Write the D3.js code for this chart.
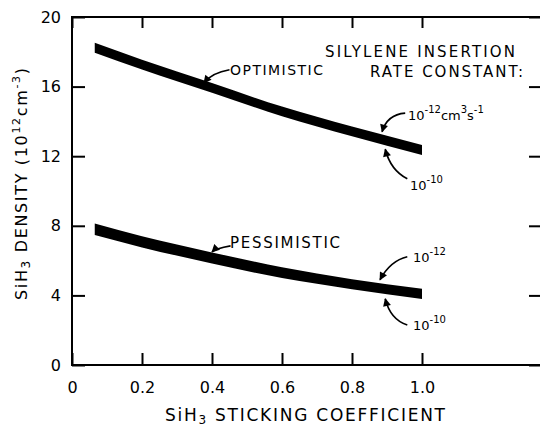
<!DOCTYPE html>
<html><head><meta charset="utf-8">
<script src="https://cdn.jsdelivr.net/npm/d3@7"></script>
<style>body{margin:0;background:#fff} svg{display:block} text{font-family:"DejaVu Sans",sans-serif;fill:#000}</style>
</head><body>
<svg id="c" width="540" height="427"></svg>
<script>
// ---- data ----
const sticking   = [0.065, 0.2, 0.4, 0.6, 0.8, 1.0];
// optimistic case: insertion rate 1e-12 (upper edge) and 1e-10 (lower edge)
const optimistic12 = [18.52, 17.55, 16.20, 14.85, 13.70, 12.64];
const optimistic10 = [17.95, 16.98, 15.65, 14.30, 13.15, 12.07];
// pessimistic case
const pessimistic12 = [8.13, 7.40, 6.47, 5.62, 4.93, 4.38];
const pessimistic10 = [7.47, 6.76, 5.84, 5.00, 4.36, 3.80];
const xTicks = [0, 0.2, 0.4, 0.6, 0.8, 1.0];
const xTickLabels = ["0", "0.2", "0.4", "0.6", "0.8", "1.0"];
const yTicks = [0, 4, 8, 12, 16, 20];
const yTickLabels = ["0", "4", "8", "12", "16", "20"];

const svg = d3.select("#c");
const x = d3.scaleLinear().domain([0, 1.34]).range([72, 541]);
const y = d3.scaleLinear().domain([0, 20]).range([365, 17]);

// frame
svg.append("rect").attr("x", x(0)).attr("y", y(20))
  .attr("width", x(1.34) - x(0)).attr("height", y(0) - y(20))
  .attr("fill", "none").attr("stroke", "#000").attr("stroke-width", 2);

function styleAxis(g) {
  g.select(".domain").remove();
  g.selectAll(".tick line").attr("stroke", "#000").attr("stroke-width", 2);
  g.selectAll(".tick text").style("font-size", "16px").attr("fill", "#000");
}
svg.append("g").attr("transform", `translate(0,${y(0)})`)
  .call(d3.axisBottom(x).tickValues(xTicks).tickSize(-12).tickPadding(17)
    .tickFormat((d, i) => xTickLabels[i]))
  .call(styleAxis);
svg.append("g").attr("transform", `translate(0,${y(20)})`)
  .call(d3.axisTop(x).tickValues(xTicks).tickSize(-11).tickFormat(""))
  .call(styleAxis);
svg.append("g").attr("transform", `translate(${x(0)},0)`)
  .call(d3.axisLeft(y).tickValues(yTicks).tickSize(-13).tickPadding(11)
    .tickFormat((d, i) => yTickLabels[i]))
  .call(styleAxis);
svg.append("g").attr("transform", `translate(${x(1.34)},0)`)
  .call(d3.axisRight(y).tickValues(yTicks).tickSize(-12).tickFormat(""))
  .call(styleAxis);

// bands
const area = d3.area().curve(d3.curveMonotoneX)
  .x(d => x(d.s)).y0(d => y(d.lo)).y1(d => y(d.hi));
[[optimistic12, optimistic10], [pessimistic12, pessimistic10]].forEach(([hi, lo]) => {
  const pts = sticking.map((s, i) => ({ s, hi: hi[i], lo: lo[i] }));
  svg.append("path").attr("d", area(pts)).attr("fill", "#000");
});

// arrow marker
svg.append("defs").append("marker").attr("id", "ah")
  .attr("viewBox", "0 0 10 10").attr("refX", 9).attr("refY", 5)
  .attr("markerWidth", 10).attr("markerHeight", 8).attr("markerUnits", "userSpaceOnUse")
  .attr("orient", "auto")
  .append("path").attr("d", "M0,0L10,5L0,10Z").attr("fill", "#000");

// annotation arrows (start, control, tip) in data units
const arrows = [
  [[0.450, 16.97], [0.40, 16.8], [0.377, 16.22]],
  [[0.453, 6.85], [0.41, 6.7], [0.400, 6.50]],
  [[0.952, 14.48], [0.90, 14.4], [0.886, 13.40]],
  [[0.958, 10.7], [0.91, 11.2], [0.895, 12.4]],
  [[0.958, 6.22], [0.91, 6.0], [0.880, 4.90]],
  [[0.958, 2.3], [0.91, 2.6], [0.895, 3.80]]
];
arrows.forEach(([a, c, b]) => {
  svg.append("path")
    .attr("d", `M${x(a[0])},${y(a[1])}Q${x(c[0])},${y(c[1])} ${x(b[0])},${y(b[1])}`)
    .attr("fill", "none").attr("stroke", "#000").attr("stroke-width", 1.7)
    .attr("marker-end", "url(#ah)");
});

// plain labels
function label(txt, px, py, size, len) {
  const t = svg.append("text").attr("x", px).attr("y", py)
    .style("font-size", size + "px").text(txt);
  if (len) t.attr("textLength", len).attr("lengthAdjust", "spacing");
  return t;
}
label("OPTIMISTIC", 230, 75, 14, 93);
label("PESSIMISTIC", 230, 248, 15, 110);
label("SILYLENE INSERTION", 325, 57, 15, 190);
label("RATE CONSTANT:", 370, 77, 15, 153);

// power labels
function power(parts, px, py) {
  const t = svg.append("text").attr("x", px).attr("y", py);
  let lvl = 0;
  parts.forEach(([s, sup]) => {
    const want = sup ? -7 : 0;
    t.append("tspan").attr("dy", want - lvl)
      .style("font-size", sup ? "10px" : "13px").text(s);
    lvl = want;
  });
}
power([["10"], ["-12", 1], ["cm"], ["3", 1], ["s"], ["-1", 1]], 408, 120);
power([["10"], ["-10", 1]], 410, 190);
power([["10"], ["-12", 1]], 413, 262);
power([["10"], ["-10", 1]], 413, 330);

// axis titles
const xt = svg.append("text").attr("x", 165).attr("y", 421)
  .style("font-size", "17px").attr("textLength", 280).attr("lengthAdjust", "spacing");
xt.append("tspan").text("SiH");
xt.append("tspan").attr("dy", 3).style("font-size", "12px").text("3");
xt.append("tspan").attr("dy", -3).text(" STICKING COEFFICIENT");

const yt = svg.append("text").attr("transform", "translate(27,300) rotate(-90)")
  .style("font-size", "16px").attr("textLength", 232).attr("lengthAdjust", "spacing");
yt.append("tspan").text("SiH");
yt.append("tspan").attr("dy", 3).style("font-size", "12px").text("3");
yt.append("tspan").attr("dy", -3).text(" DENSITY (10");
yt.append("tspan").attr("dy", -7).style("font-size", "11px").text("12");
yt.append("tspan").attr("dy", 7).text("cm");
yt.append("tspan").attr("dy", -7).style("font-size", "11px").text("-3");
yt.append("tspan").attr("dy", 7).text(")");
</script>
</body></html>
